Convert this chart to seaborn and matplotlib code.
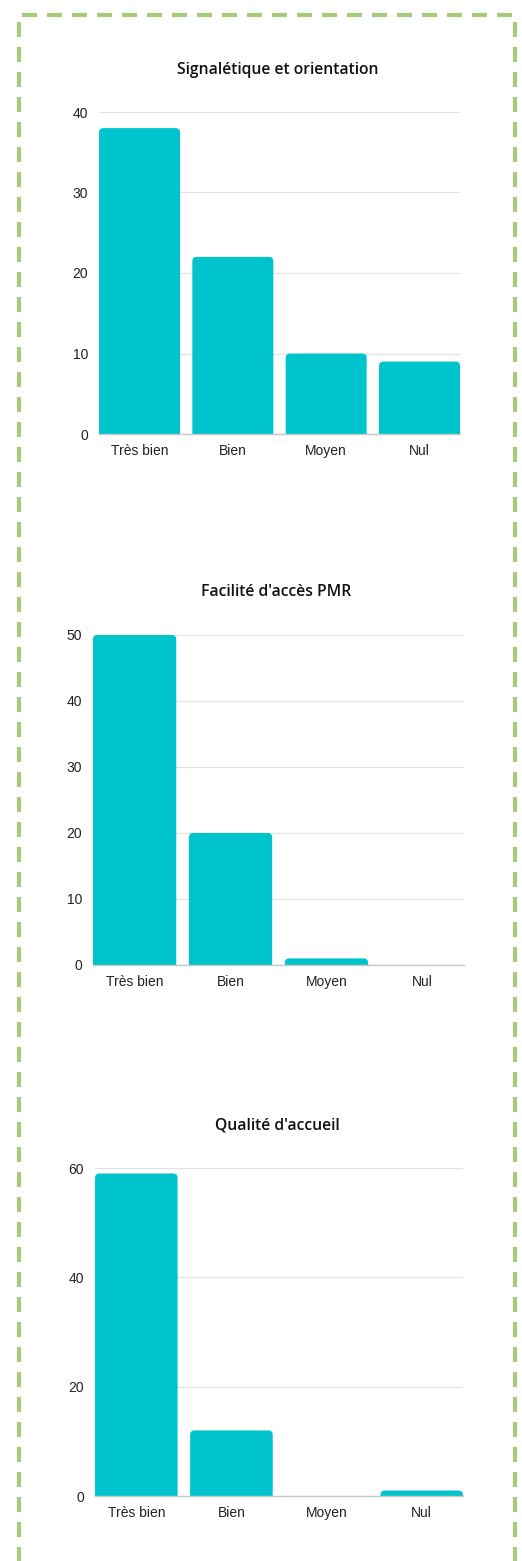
import matplotlib
matplotlib.use("Agg")
import matplotlib.pyplot as plt
from matplotlib.lines import Line2D
from matplotlib.patches import FancyBboxPatch
import seaborn as sns

categories = ["Très bien", "Bien", "Moyen", "Nul"]
signaletique = [38, 22, 10, 9]
acces_pmr = [50, 20, 1, 0]
accueil = [59, 12, 0, 1]

titles = ["Signalétique et orientation", "Facilité d'accès PMR", "Qualité d'accueil"]
series = [signaletique, acces_pmr, accueil]
yticks = [[0, 10, 20, 30, 40], [0, 10, 20, 30, 40, 50], [0, 20, 40, 60]]

W, H = 522, 1561
# axes boxes in pixels: left, right, top, bottom
boxes = [(99, 460, 112, 434), (93, 464, 635, 965), (95, 463, 1168, 1496)]
title_y = [70, 592, 1126]

sns.set_theme(style="white")
plt.rcParams['font.family'] = ['Liberation Sans', 'DejaVu Sans']

bar_color = "#00c4cc"
bw = 0.868
radius_px = 4.5

fig = plt.figure(figsize=(W / 100, H / 100), dpi=100)

for vals, title, ticks, box, ty in zip(series, titles, yticks, boxes, title_y):
    l, r, t, b = box
    ax = fig.add_axes([l / W, 1 - b / H, (r - l) / W, (b - t) / H])
    sns.barplot(x=categories, y=vals, color=bar_color, saturation=1,
                width=bw, ax=ax, zorder=3, linewidth=0)
    ax.set_xlim(-bw / 2, len(categories) - 1 + bw / 2)
    ax.set_ylim(0, ticks[-1])
    ax.set_yticks(ticks)
    ax.set_xlabel("")
    ax.set_ylabel("")

    # swap the square bars for bars with rounded top corners
    x_per_px = (len(categories) - 1 + bw) / (r - l)
    y_per_px = ticks[-1] / (b - t)
    rad = radius_px * x_per_px
    for p in list(ax.patches):
        x0, w, h = p.get_x(), p.get_width(), p.get_height()
        p.remove()
        if h <= 0:
            continue
        ext = radius_px * y_per_px
        fb = FancyBboxPatch((x0, -ext), w, h + ext,
                            boxstyle=f"round,pad=0,rounding_size={rad}",
                            mutation_aspect=y_per_px / x_per_px,
                            facecolor=bar_color, edgecolor="none", zorder=3)
        ax.add_patch(fb)

    for s in ax.spines.values():
        s.set_visible(False)
    ax.grid(axis="y", color="#e3e3e3", linewidth=0.9, zorder=0)
    ax.axhline(0, color="#c8c8c8", linewidth=1.0, zorder=4, clip_on=False)
    ax.tick_params(axis="both", length=0, labelsize=10, labelcolor="#222222")
    ax.tick_params(axis="y", pad=8)
    ax.tick_params(axis="x", pad=7)
    fig.text((l + r) / 2 / W - 0.004, 1 - ty / H, title, ha="center", va="center",
             fontsize=11.3, fontweight="semibold", color="#111111",
             family=["Open Sans", "DejaVu Sans"])

# dashed green frame
frame = Line2D([x / 100 for x in [19, 19, 515, 515]],
               [(H - y) / 100 for y in [H + 20, 15, 15, H + 20]],
               color="#a9c97b", linewidth=3.0,
               linestyle=(0, (3.6, 2.4)), solid_joinstyle="miter")
frame.set_transform(fig.dpi_scale_trans)
frame.set_clip_on(False)
fig.add_artist(frame)

fig.savefig("out.png", dpi=100, facecolor="white")
